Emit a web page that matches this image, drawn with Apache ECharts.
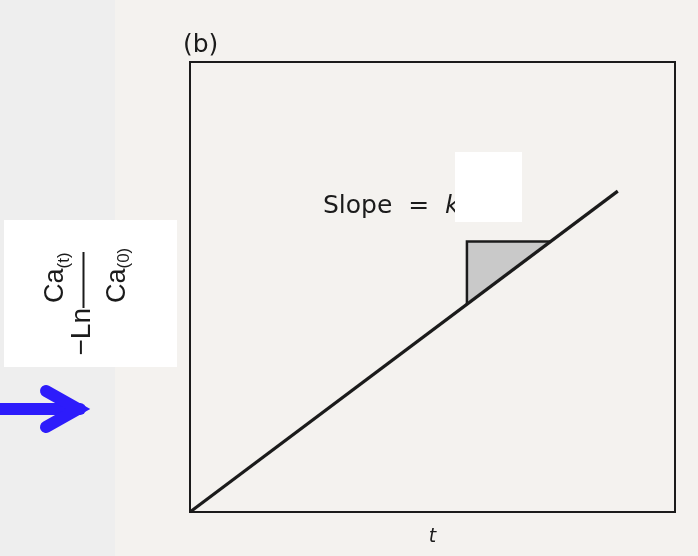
<!DOCTYPE html>
<html>
<head>
<meta charset="utf-8">
<title>First-order plot</title>
<script src="https://cdn.jsdelivr.net/npm/echarts@6/dist/echarts.min.js"></script>
<style>
  html, body { margin: 0; padding: 0; background: #eeeeee; }
  #chart { width: 698px; height: 556px; }
</style>
</head>
<body>
<div id="chart"></div>
<script>
// Straight line through the origin: -ln(Ca(t)/Ca(0)) against t
const lineT = [0, 8.82];
const lineY = [0, 7.13];

// Slope triangle drawn under the line (vertices: foot on line, corner, point on line)
const triT = [5.71, 5.71, 7.43];
const triY = [4.62, 6.01, 6.01];

// Axis extents (no tick labels are shown)
const tRange = [0, 10];
const yRange = [0, 10];

const ink = '#1b1b1b';
const sans = '"Liberation Sans", Arial, sans-serif';
const roundSans = '"DejaVu Sans", sans-serif';

const chart = echarts.init(document.getElementById('chart'), null, { renderer: 'canvas' });

const linePoints = lineT.map((t, i) => [t, lineY[i]]);
const triangleItem = [triT[0], triY[0], triT[1], triY[1], triT[2], triY[2]];

chart.setOption({
  animation: false,
  backgroundColor: '#eeeeee',
  grid: {
    left: 190, top: 62, width: 485, height: 450,
    show: true, borderColor: ink, borderWidth: 2, backgroundColor: 'transparent'
  },
  xAxis: {
    type: 'value', min: tRange[0], max: tRange[1],
    axisLine: { show: false }, axisTick: { show: false },
    axisLabel: { show: false }, splitLine: { show: false },
    name: 't', nameLocation: 'middle', nameGap: 16,
    nameTextStyle: { fontFamily: roundSans, fontStyle: 'italic', fontSize: 19, color: ink }
  },
  yAxis: {
    type: 'value', min: yRange[0], max: yRange[1],
    axisLine: { show: false }, axisTick: { show: false },
    axisLabel: { show: false }, splitLine: { show: false }
  },
  graphic: [
    // scanned page area
    { type: 'rect', z: -10, shape: { x: 115, y: 0, width: 583, height: 556 },
      style: { fill: '#f4f2ef' } },
    // panel label
    { type: 'text', x: 183, y: 45,
      style: { text: '(b)', fontFamily: roundSans, fontSize: 25, fill: ink,
               align: 'left', verticalAlign: 'middle' } },
    // slope annotation
    { type: 'text', x: 323, y: 206, z: 50,
      style: { text: '{n|Slope  =  }{k|k}', align: 'left', verticalAlign: 'middle',
               rich: {
                 n: { fontFamily: roundSans, fontSize: 25, fill: ink, color: ink },
                 k: { fontFamily: roundSans, fontSize: 25, fontStyle: 'italic', fill: ink, color: ink }
               } } },
    { type: 'rect', z: 60, shape: { x: 455, y: 152, width: 67, height: 70 },
      style: { fill: '#ffffff' } },
    // y-axis title panel
    { type: 'rect', z: 60, shape: { x: 4, y: 220, width: 173, height: 147 },
      style: { fill: '#ffffff' } },
    { type: 'text', z: 61, x: 82, y: 308, rotation: Math.PI / 2,
      style: { text: '\u2212Ln', fontFamily: sans, fontSize: 28, fill: ink,
               align: 'right', verticalAlign: 'middle' } },
    { type: 'line', z: 61, shape: { x1: 83.5, y1: 252, x2: 83.5, y2: 308 },
      style: { stroke: ink, lineWidth: 2 } },
    { type: 'text', z: 61, x: 55.5, y: 303, rotation: Math.PI / 2,
      style: { text: 'Ca', fontFamily: sans, fontSize: 27, fill: ink,
               align: 'left', verticalAlign: 'middle' } },
    { type: 'text', z: 61, x: 64, y: 268.5, rotation: Math.PI / 2,
      style: { text: '(t)', fontFamily: sans, fontSize: 17, fill: ink,
               align: 'left', verticalAlign: 'middle' } },
    { type: 'text', z: 61, x: 117.5, y: 303, rotation: Math.PI / 2,
      style: { text: 'Ca', fontFamily: sans, fontSize: 27, fill: ink,
               align: 'left', verticalAlign: 'middle' } },
    { type: 'text', z: 61, x: 124, y: 268.5, rotation: Math.PI / 2,
      style: { text: '(0)', fontFamily: sans, fontSize: 17, fill: ink,
               align: 'left', verticalAlign: 'middle' } },
    // blue pointer arrow
    { type: 'polyline', z: 61, shape: { points: [[-6, 409], [80, 409]] },
      style: { stroke: '#2d1cfb', lineWidth: 12, lineCap: 'round', fill: null } },
    { type: 'polyline', z: 61, shape: { points: [[46, 391], [78, 409], [46, 427]] },
      style: { stroke: '#2d1cfb', lineWidth: 12, lineCap: 'round', lineJoin: 'miter', miterLimit: 10, fill: null } }
  ],
  series: [
    {
      type: 'custom',
      z: 1,
      silent: true,
      data: [triangleItem],
      renderItem: function (params, api) {
        const pts = [0, 1, 2].map(i => api.coord([api.value(2 * i), api.value(2 * i + 1)]));
        return {
          type: 'group',
          children: [
            { type: 'polygon', shape: { points: pts },
              style: { fill: '#c9c9c9', stroke: null } },
            { type: 'polyline', shape: { points: [pts[0], pts[1], pts[2]] },
              style: { stroke: ink, lineWidth: 2.5, fill: null } }
          ]
        };
      }
    },
    {
      type: 'line',
      z: 3,
      data: linePoints,
      showSymbol: false,
      symbol: 'none',
      lineStyle: { color: ink, width: 3.2 }
    }
  ]
});
</script>
</body>
</html>
